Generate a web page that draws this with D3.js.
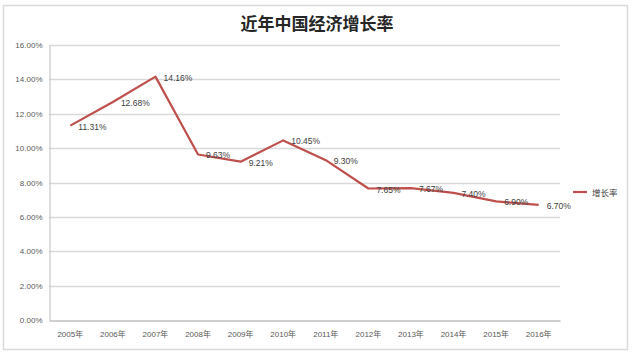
<!DOCTYPE html>
<html><head><meta charset="utf-8">
<script src="https://cdn.jsdelivr.net/npm/d3@7"></script>
<style>
html,body{margin:0;padding:0;background:#fff;}
svg{display:block;}
</style></head>
<body>
<svg id="c" width="633" height="356"></svg>
<script>
const categories = ["2005年","2006年","2007年","2008年","2009年","2010年","2011年","2012年","2013年","2014年","2015年","2016年"];
const growth = [11.31, 12.68, 14.16, 9.63, 9.21, 10.45, 9.30, 7.65, 7.67, 7.40, 6.90, 6.70];
const yTicks = [0, 2, 4, 6, 8, 10, 12, 14, 16];
const seriesName = "增长率";
const chartTitle = "近年中国经济增长率";

(function(){
const svg = d3.select("#c");
const font = "'Liberation Sans','Noto Sans CJK SC',sans-serif";
const pLeft = 49, pRight = 560, pTop = 45, pBottom = 320;
const lineColor = "#be4f4c";

// outer frame
svg.append("rect").attr("x",3.5).attr("y",5.5).attr("width",624).attr("height",344)
  .attr("fill","#fff").attr("stroke","#d9d9d9").attr("stroke-width",1.5);

svg.append("text").attr("x",317).attr("y",30).attr("text-anchor","middle")
  .attr("font-family","'Noto Sans CJK SC',sans-serif").attr("font-size",17)
  .attr("font-weight",700).attr("fill","#262626").text(chartTitle);

const x = d3.scaleBand().domain(categories).range([pLeft, pRight]);
const y = d3.scaleLinear().domain([0,16]).range([pBottom, pTop]);

// gridlines
svg.append("g").selectAll("line").data(yTicks.filter(d=>d>0)).join("line")
  .attr("x1",pLeft).attr("x2",pRight).attr("y1",d=>Math.round(y(d))+0.5).attr("y2",d=>Math.round(y(d))+0.5)
  .attr("stroke","#d9d9d9").attr("stroke-width",1.3);

// y axis
const yAxis = d3.axisLeft(y).tickValues(yTicks).tickFormat(d=>d.toFixed(2)+"%").tickSize(0).tickPadding(7);
const gy = svg.append("g").attr("transform",`translate(${pLeft+0.5},0)`).call(yAxis);
gy.select(".domain").attr("stroke","#bfbfbf");
gy.selectAll("text").attr("font-family",font).attr("font-size",8).attr("fill","#595959");

// x axis
const xAxis = d3.axisBottom(x).tickSize(0).tickPadding(11);
const gx = svg.append("g").attr("transform",`translate(0,${pBottom+0.5})`).call(xAxis);
gx.select(".domain").attr("stroke","#bfbfbf").attr("stroke-width",1.3);
gx.selectAll("text").attr("font-family",font).attr("font-size",8).attr("fill","#595959");

// line
const pts = categories.map((c,i)=>({c, v:growth[i]}));
const line = d3.line().x(d=>x(d.c)+x.bandwidth()/2).y(d=>y(d.v));
svg.append("path").datum(pts).attr("d",line).attr("fill","none")
  .attr("stroke",lineColor).attr("stroke-width",2.2).attr("stroke-linejoin","round");

// labels
svg.append("g").selectAll("text").data(pts).join("text")
  .attr("x",d=>x(d.c)+x.bandwidth()/2+8).attr("y",d=>y(d.v)+4)
  .attr("font-family",font).attr("font-size",8.5).attr("fill","#404040")
  .text(d=>d.v.toFixed(2)+"%");

// legend
svg.append("line").attr("x1",573).attr("x2",587).attr("y1",192).attr("y2",192)
  .attr("stroke",lineColor).attr("stroke-width",2.2);
svg.append("text").attr("x",592).attr("y",195.5).attr("font-family",font)
  .attr("font-size",8.5).attr("fill","#404040").text(seriesName);
})();
</script>
</body></html>
